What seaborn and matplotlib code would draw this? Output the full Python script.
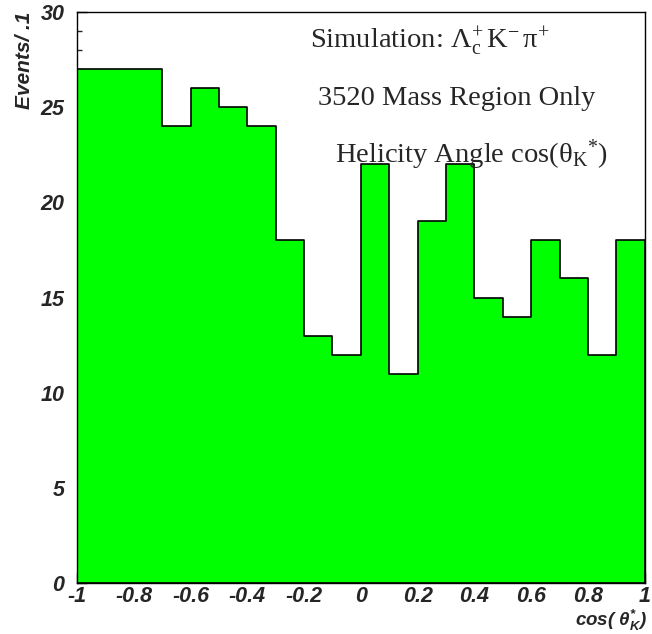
import numpy as np
import pandas as pd
import matplotlib
matplotlib.use("Agg")
import matplotlib.pyplot as plt
from matplotlib.ticker import MultipleLocator
import seaborn as sns

# Helicity angle histogram: 20 bins of width 0.1 on [-1, 1]
bin_edges = [-1.0, -0.9, -0.8, -0.7, -0.6, -0.5, -0.4, -0.3, -0.2, -0.1, 0.0,
             0.1, 0.2, 0.3, 0.4, 0.5, 0.6, 0.7, 0.8, 0.9, 1.0]
counts = [27, 27, 27, 24, 26, 25, 24, 18, 13, 12,
          22, 11, 19, 22, 15, 14, 18, 16, 12, 18]
x_ticks = [-1, -0.8, -0.6, -0.4, -0.2, 0, 0.2, 0.4, 0.6, 0.8, 1]
x_tick_labels = ["-1", "-0.8", "-0.6", "-0.4", "-0.2", "0", "0.2", "0.4", "0.6", "0.8", "1"]
y_ticks = [0, 5, 10, 15, 20, 25, 30]

centers = [(a + b) / 2 for a, b in zip(bin_edges[:-1], bin_edges[1:])]
df = pd.DataFrame({"cos_theta": centers, "events": counts})

sns.set_style("white")
plt.rcParams["font.family"] = ["Liberation Sans", "DejaVu Sans"]
plt.rcParams["mathtext.fontset"] = "custom"
plt.rcParams["mathtext.rm"] = "Liberation Serif"
plt.rcParams["mathtext.it"] = "Liberation Serif:italic"
plt.rcParams["mathtext.bf"] = "Liberation Sans:bold:italic"

fig = plt.figure(figsize=(6.52, 6.34), dpi=100)
ax = fig.add_axes([0.118, 0.0805, 0.871, 0.9005])

sns.histplot(data=df, x="cos_theta", weights="events", bins=bin_edges,
             element="step", fill=True, color="#00ff00", alpha=1.0,
             edgecolor="black", linewidth=1.2, ax=ax)

ax.set_xlim(-1, 1)
ax.set_ylim(0, 30)
ax.set_xlabel("")
ax.set_ylabel("")

for s in ax.spines.values():
    s.set_color("black")
    s.set_linewidth(1.0)
    s.set_visible(True)

ax.set_xticks(x_ticks)
ax.set_xticklabels(x_tick_labels)
ax.set_yticks(y_ticks)
ax.xaxis.set_minor_locator(MultipleLocator(0.05))
ax.yaxis.set_minor_locator(MultipleLocator(1))
ax.tick_params(axis="both", which="major", direction="in", length=7, width=1,
               bottom=True, left=True, top=False, right=False)
ax.tick_params(axis="both", which="minor", direction="in", length=3.5, width=1,
               bottom=True, left=True, top=False, right=False)
ax.tick_params(axis="x", which="major", pad=2)
ax.tick_params(axis="y", which="major", pad=9)
for lab in ax.get_xticklabels() + ax.get_yticklabels():
    lab.set_fontsize(15.5)
    lab.set_fontweight("bold")
    lab.set_fontstyle("italic")

# axis titles in the ROOT style
fig.text(0.038, 0.982, "Events/ .1", rotation=90, ha="center", va="top",
         fontsize=15, fontweight="bold", fontstyle="italic")
fig.text(0.993, 0.001, r"cos( $\mathbf{\theta_{K}^{*}}$)", ha="right", va="bottom",
         fontsize=13.5, fontweight="bold", fontstyle="italic")

# annotation block
serif = ["Liberation Serif", "DejaVu Serif"]
ax.text(310 / 652, 1 - 48 / 634,
        r"Simulation: $\Lambda_{\mathrm{c}}^{+}\,\mathrm{K}^{-}\,\mathrm{\pi}^{+}$",
        transform=fig.transFigure, ha="left", va="baseline", fontsize=20.5, family=serif)
ax.text(318 / 652, 1 - 105 / 634, "3520 Mass Region Only",
        transform=fig.transFigure, ha="left", va="baseline", fontsize=20.5, family=serif)
ax.text(335 / 652, 1 - 163 / 634, r"Helicity Angle cos($\mathrm{\theta}_{\mathrm{K}}{}^{*}$)",
        transform=fig.transFigure, ha="left", va="baseline", fontsize=20.5, family=serif)

fig.savefig("out.png", dpi=100)
